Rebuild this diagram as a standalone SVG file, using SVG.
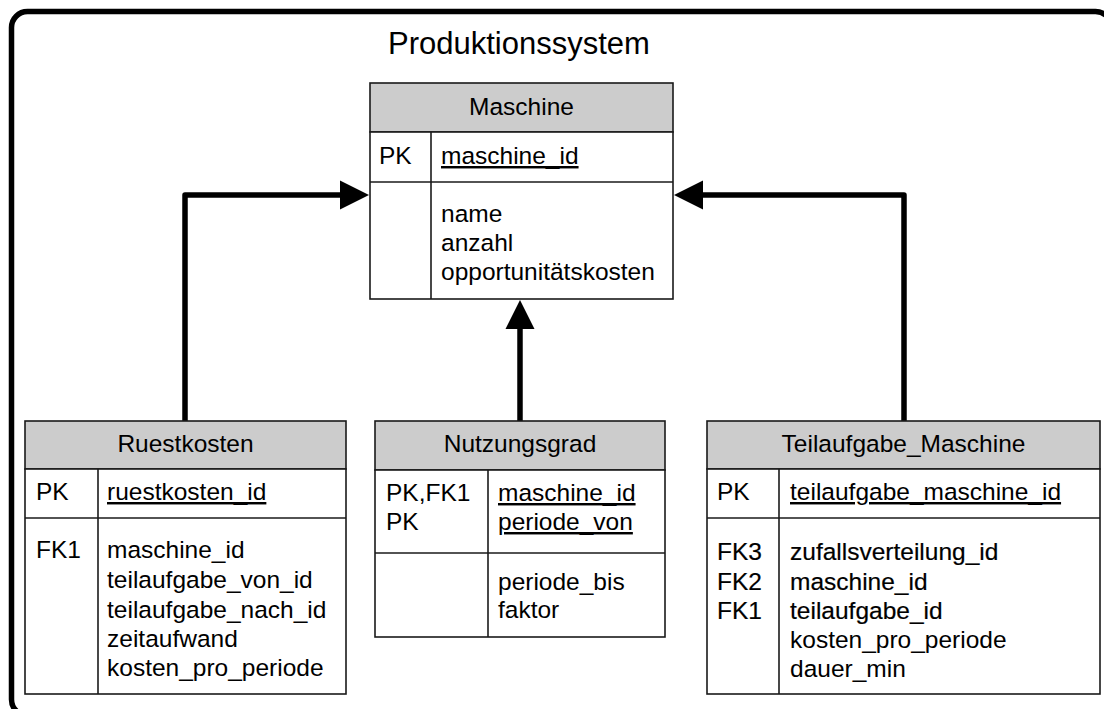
<svg xmlns="http://www.w3.org/2000/svg" width="1104" height="709" viewBox="0 0 1104 709">
  <style>
    text { font-family: "Liberation Sans", Arial, sans-serif; font-size: 24.5px; fill: #000; }
    .title { font-size: 31px; }
    .hdr { text-anchor: middle; }
    .fk { stroke: #000; stroke-width: 0.2; }
    .box { fill: #fff; stroke: #1a1a1a; stroke-width: 1.6; }
    .head { fill: #cccccc; stroke: #1a1a1a; stroke-width: 1.6; }
    .sep { stroke: #1a1a1a; stroke-width: 1.6; fill: none; }
    .uline { text-decoration: underline; }
    .conn { fill: none; stroke: #000; stroke-width: 5.5; stroke-linejoin: round; }
    .head-arrow { fill: #000; }
  </style>
  <rect width="1104" height="709" fill="#fff"/>

  <!-- system frame -->
  <g id="frame">
    <rect x="11.5" y="11.5" width="1100" height="704" rx="16" ry="16" fill="none" stroke="#000" stroke-width="5.5"/>
    <text class="title" x="388" y="54">Produktionssystem</text>
  </g>

  <!-- relationships -->
  <g id="connectors">
    <path class="conn" d="M185,421 L185,195 L340,195" />
    <path class="head-arrow" d="M340,180.5 L369,195 L340,209.5 Z"/>
    <path class="conn" d="M904,421 L904,195 L703,195" />
    <path class="head-arrow" d="M703,180.5 L674,195 L703,209.5 Z"/>
    <path class="conn" d="M520,422 L520,329" />
    <path class="head-arrow" d="M505.5,329 L520,300 L534.5,329 Z"/>
  </g>

  <!-- Maschine -->
  <g id="maschine">
    <rect class="head" x="370" y="83" width="303" height="49"/>
    <rect class="box" x="370" y="132" width="303" height="167"/>
    <line class="sep" x1="370" y1="182" x2="673" y2="182"/>
    <line class="sep" x1="431" y1="132" x2="431" y2="299"/>
    <text class="hdr" x="521.5" y="115">Maschine</text>
    <text x="379" y="164">PK</text>
    <text x="441" y="164" class="uline">maschine_id</text>
    <text x="441" y="222">name</text>
    <text x="441" y="251">anzahl</text>
    <text x="441" y="280">opportunitätskosten</text>
  </g>

  <!-- Ruestkosten -->
  <g id="ruestkosten">
    <rect class="head" x="25" y="421" width="321" height="48"/>
    <rect class="box" x="25" y="469" width="321" height="225"/>
    <line class="sep" x1="25" y1="518" x2="346" y2="518"/>
    <line class="sep" x1="98" y1="469" x2="98" y2="694"/>
    <text class="hdr" x="185.5" y="452">Ruestkosten</text>
    <text x="36" y="500">PK</text>
    <text x="107" y="500" class="uline">ruestkosten_id</text>
    <text x="36" y="558">FK1</text>
    <text x="107" y="558">maschine_id</text>
    <text x="107" y="588">teilaufgabe_von_id</text>
    <text x="107" y="618">teilaufgabe_nach_id</text>
    <text x="107" y="647">zeitaufwand</text>
    <text x="107" y="676">kosten_pro_periode</text>
  </g>

  <!-- Nutzungsgrad -->
  <g id="nutzungsgrad">
    <rect class="head" x="375" y="421" width="290" height="49"/>
    <rect class="box" x="375" y="470" width="290" height="167"/>
    <line class="sep" x1="375" y1="553" x2="665" y2="553"/>
    <line class="sep" x1="488" y1="470" x2="488" y2="637"/>
    <text class="hdr" x="520" y="452">Nutzungsgrad</text>
    <text x="386" y="501">PK,FK1</text>
    <text x="386" y="530">PK</text>
    <text x="498" y="501" class="uline">maschine_id</text>
    <text x="498" y="530" class="uline">periode_von</text>
    <text x="498" y="590">periode_bis</text>
    <text x="498" y="618">faktor</text>
  </g>

  <!-- Teilaufgabe_Maschine -->
  <g id="teilaufgabe_maschine">
    <rect class="head" x="707" y="421" width="393" height="48"/>
    <rect class="box" x="707" y="469" width="393" height="225"/>
    <line class="sep" x1="707" y1="518" x2="1100" y2="518"/>
    <line class="sep" x1="779" y1="469" x2="779" y2="694"/>
    <text class="hdr" x="903.5" y="452">Teilaufgabe_Maschine</text>
    <text x="717" y="500">PK</text>
    <text x="790" y="500" class="uline">teilaufgabe_maschine_id</text>
    <text class="fk" x="717" y="560">FK3</text>
    <text class="fk" x="717" y="590">FK2</text>
    <text class="fk" x="717" y="619">FK1</text>
    <text class="fk" x="790" y="560">zufallsverteilung_id</text>
    <text class="fk" x="790" y="590">maschine_id</text>
    <text class="fk" x="790" y="619">teilaufgabe_id</text>
    <text x="790" y="648">kosten_pro_periode</text>
    <text x="790" y="677">dauer_min</text>
  </g>
</svg>
